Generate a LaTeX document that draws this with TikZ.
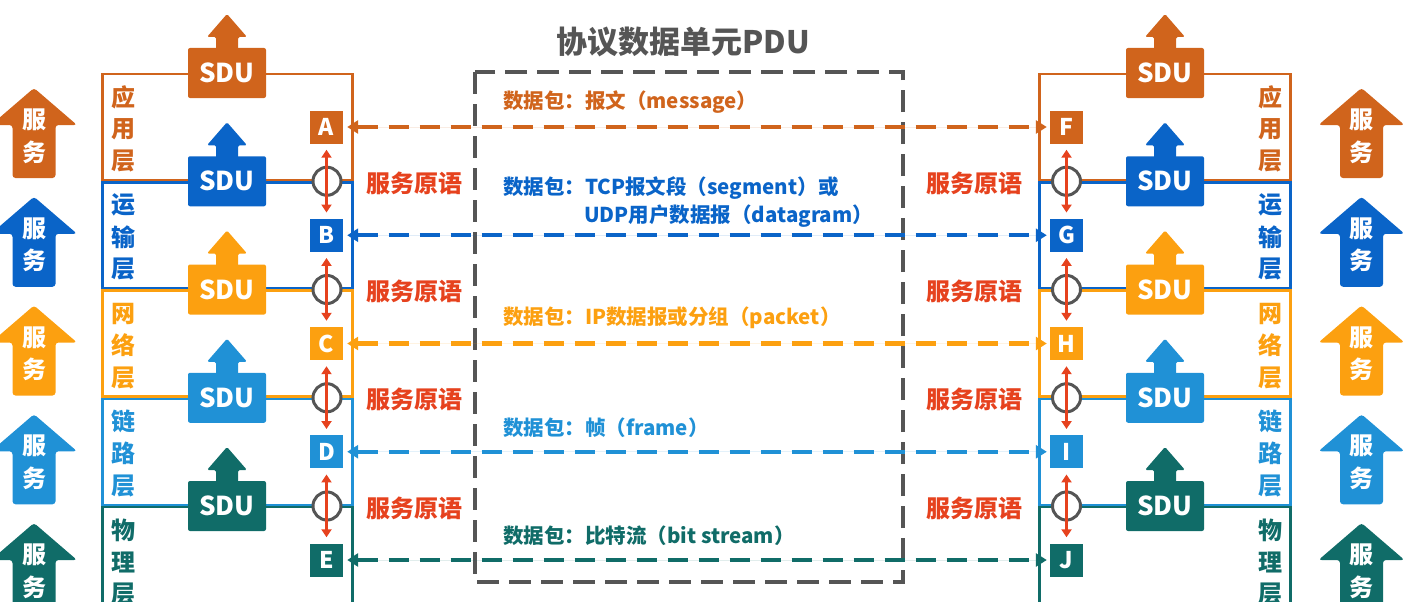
\documentclass[tikz,border=0pt]{standalone}
\usepackage{fontspec}
\setmainfont{Noto Sans CJK SC}
\usetikzlibrary{arrows.meta}
\definecolor{cO}{RGB}{208,100,28}
\definecolor{cB}{RGB}{10,100,200}
\definecolor{cY}{RGB}{252,160,16}
\definecolor{cL}{RGB}{32,145,214}
\definecolor{cT}{RGB}{16,108,104}
\definecolor{cR}{RGB}{230,66,30}
\definecolor{cG}{RGB}{85,85,85}
\tikzset{
 lay/.style={line width=2.5pt},
 sdubox/.style={minimum width=78pt, minimum height=50pt, inner sep=0pt, rounded corners=2pt, text=white, font=\fontsize{26}{26}\selectfont\bfseries},
 letter/.style={minimum size=33pt, inner sep=0pt, text=white, font=\fontsize{23}{23}\selectfont\bfseries},
 hole/.style={circle, draw=cG, fill=white, line width=3pt, minimum size=28pt, inner sep=0pt},
 prim/.style={text=cR, font=\fontsize{24}{24}\selectfont\bfseries, inner sep=0pt},
 vch/.style={font=\fontsize{24}{24}\selectfont\bfseries, inner sep=0pt},
 svc/.style={text=white, font=\fontsize{24}{24}\selectfont\bfseries, inner sep=0pt},
 pkt/.style={font=\fontsize{20.5}{20.5}\selectfont\bfseries, anchor=west, inner sep=0pt},
 pdu/.style={line width=4.2pt, dash pattern=on 20pt off 11pt, {Triangle[length=11pt,width=13pt]}-{Triangle[length=11pt,width=13pt]}, shorten <=4pt, shorten >=3pt},
 redarr/.style={draw=cR, line width=2.6pt, {Triangle[length=8pt,width=10pt]}-{Triangle[length=8pt,width=10pt]}, shorten <=6pt, shorten >=6pt},
 pdubox/.style={draw=cG, line width=4pt, dash pattern=on 22pt off 10pt},
}
\begin{document}
\begin{tikzpicture}[x=1pt,y=-1pt]
\useasboundingbox (0,0) rectangle (1421,602);
\clip (0,0) rectangle (1421,602);
% gray PDU box and title
\draw[pdubox] (475,72) rectangle (903,582);
\node[text=cG, font=\fontsize{31}{31}\selectfont\bfseries, inner sep=0pt] (title) at (683,42) {协议数据单元PDU};
% layer rectangles
\foreach \i/\c in {0/cO,1/cB,2/cY,3/cL,4/cT}{
  \pgfmathsetmacro\yt{73+108.25*\i}
  \pgfmathsetmacro\yb{ifthenelse(\i==4,640,\yt+108.25)}
  \draw[lay, draw=\c] (102.5,\yt+1.2) rectangle (352.5,\yb-1.2);
  \draw[lay, draw=\c] (1039.5,\yt+1.2) rectangle (1290.5,\yb-1.2);
}
% SDU boxes, service arrows, labels
\foreach \i/\c/\la/\lb/\lc in {0/cO/应/用/层,1/cB/运/输/层,2/cY/网/络/层,3/cL/链/路/层,4/cT/物/理/层}{
  \pgfmathsetmacro\yt{73+108.25*\i}
  \pgfmathsetmacro\ty{88+108.75*\i}
  \foreach \sx/\s in {227/L,1165/R}{
    \fill[\c, rounded corners=1.5pt] (\sx-11,\yt-20) -- (\sx-11,\yt-36) -- (\sx-20,\yt-36) -- (\sx,\yt-59) -- (\sx+20,\yt-36) -- (\sx+11,\yt-36) -- (\sx+11,\yt-20) -- cycle;
    \node[sdubox, fill=\c] (sdu\s\i) at (\sx,\yt) {SDU};
  }
  \foreach \ax/\s in {34/L,1361.5/R}{
    \fill[\c, rounded corners=3pt] (\ax,\ty) -- (\ax+43,\ty+37) -- (\ax+21.5,\ty+37) -- (\ax+21.5,\ty+90) -- (\ax-21.5,\ty+90) -- (\ax-21.5,\ty+37) -- (\ax-43,\ty+37) -- cycle;
    \node[svc] (sva\s\i) at (\ax,\ty+32) {服};
    \node[svc] (svb\s\i) at (\ax,\ty+64) {务};
  }
  \foreach \lx/\s in {123/L,1270/R}{
    \node[vch, text=\c] (va\s\i) at (\lx,\yt+24) {\la};
    \node[vch, text=\c] (vb\s\i) at (\lx,\yt+56) {\lb};
    \node[vch, text=\c] (vc\s\i) at (\lx,\yt+88) {\lc};
  }
}
% letter boxes and peer arrows
\foreach \i/\c/\L/\R in {0/cO/A/F,1/cB/B/G,2/cY/C/H,3/cL/D/I,4/cT/E/J}{
  \pgfmathsetmacro\yt{73+108.25*\i}
  \node[letter, fill=\c] (L\i) at (326.5,\yt+54) {\L};
  \node[letter, fill=\c] (R\i) at (1066.5,\yt+54) {\R};
  \draw[pdu, draw=\c, fill=\c] (L\i.east) -- (R\i.west);
}
% service access points and primitives
\foreach \i/\j in {1/0,2/1,3/2,4/3}{
  \pgfmathsetmacro\yt{73+108.25*\i}
  \node[hole] (hL\i) at (327,\yt) {};
  \node[hole] (hR\i) at (1066.5,\yt) {};
  \draw[redarr, fill=cR] (L\j.south) -- (L\i.north);
  \draw[redarr, fill=cR] (R\j.south) -- (R\i.north);
  \node[prim] (pL\i) at (414,\yt+2) {服务原语};
  \node[prim] (pR\i) at (974,\yt+2) {服务原语};
}
% packet labels
\node[pkt, text=cO] (k0) at (503,102) {数据包：报文（message）};
\node[pkt, text=cB] (k1) at (503,188) {数据包：TCP报文段（segment）或};
\node[pkt, text=cB] (k1b) at (584,216) {UDP用户数据报（datagram）};
\node[pkt, text=cY] (k2) at (503,318) {数据包：IP数据报或分组（packet）};
\node[pkt, text=cL] (k3) at (503,428) {数据包：帧（frame）};
\node[pkt, text=cT] (k4) at (503,536) {数据包：比特流（bit stream）};
\end{tikzpicture}
\end{document}
